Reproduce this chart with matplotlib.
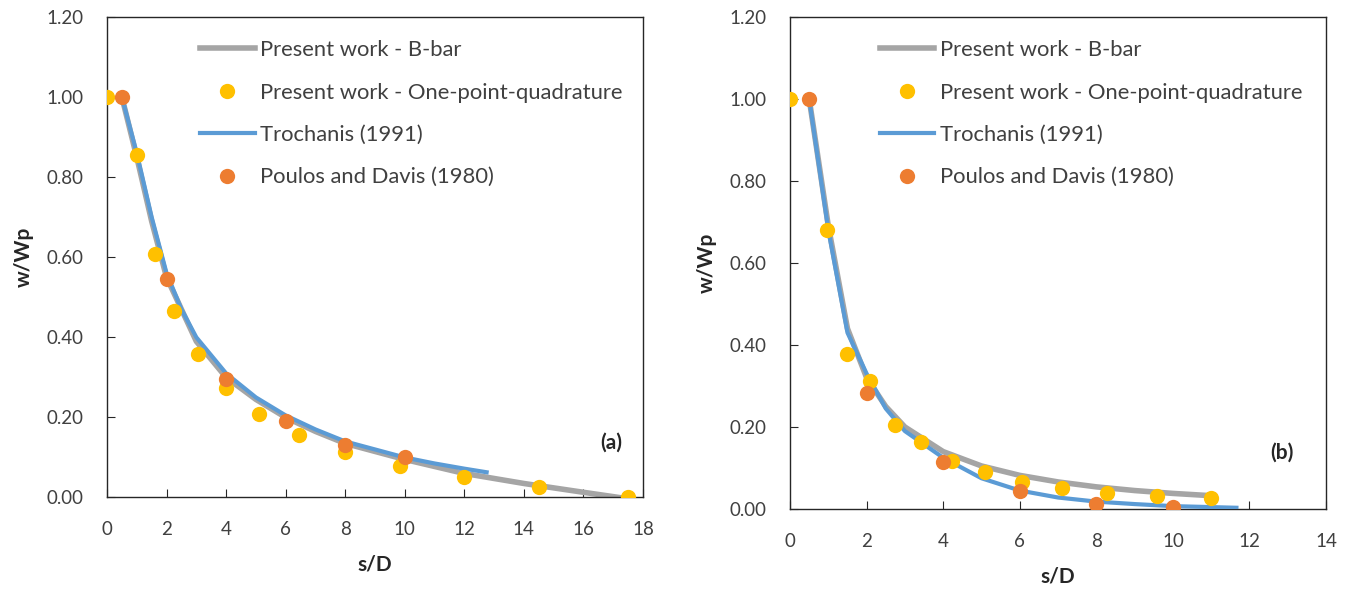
import matplotlib
matplotlib.use('Agg')
import matplotlib.pyplot as plt
import numpy as np

# --- donnees panneau (a)
a_bbar_x = [0.5, 1.0, 1.5, 2.0, 3.0, 4.0, 5.0, 6.0, 7.0, 8.0, 10.0, 12.0, 14.0, 16.0, 17.2]
a_bbar_y = [1.0, 0.85, 0.69, 0.55, 0.39, 0.30, 0.245, 0.20, 0.165, 0.135, 0.095, 0.06, 0.035, 0.013, 0.0]
a_opq_x = [0.0, 1.0, 1.6, 2.25, 3.05, 4.0, 5.1, 6.45, 8.0, 9.85, 12.0, 14.5, 17.5]
a_opq_y = [1.0, 0.855, 0.607, 0.466, 0.359, 0.274, 0.208, 0.156, 0.113, 0.078, 0.050, 0.025, 0.0]
a_tro_x = [0.5, 1.0, 1.5, 2.0, 2.5, 3.0, 4.0, 5.0, 6.0, 7.0, 8.0, 9.0, 10.0, 11.0, 12.0, 12.75]
a_tro_y = [1.0, 0.86, 0.70, 0.56, 0.47, 0.40, 0.31, 0.25, 0.205, 0.17, 0.14, 0.12, 0.10, 0.085, 0.072, 0.063]
a_pd_x = [0.5, 2.0, 4.0, 6.0, 8.0, 10.0]
a_pd_y = [1.0, 0.545, 0.296, 0.191, 0.13, 0.10]

# --- donnees panneau (b)
b_bbar_x = [0.5, 1.0, 1.5, 2.0, 2.5, 3.0, 4.0, 5.0, 6.0, 7.0, 8.0, 9.0, 10.0, 10.9]
b_bbar_y = [1.0, 0.69, 0.44, 0.32, 0.25, 0.20, 0.14, 0.105, 0.082, 0.066, 0.054, 0.045, 0.038, 0.033]
b_opq_x = [0.0, 0.97, 1.5, 2.1, 2.74, 3.42, 4.24, 5.08, 6.05, 7.1, 8.29, 9.58, 11.0]
b_opq_y = [1.0, 0.68, 0.378, 0.312, 0.206, 0.164, 0.118, 0.091, 0.067, 0.052, 0.039, 0.032, 0.028]
b_tro_x = [0.5, 1.0, 1.5, 2.0, 2.5, 3.0, 4.0, 5.0, 6.0, 7.0, 8.0, 9.0, 10.0, 11.66]
b_tro_y = [1.0, 0.68, 0.43, 0.33, 0.245, 0.19, 0.125, 0.075, 0.045, 0.028, 0.018, 0.012, 0.007, 0.003]
b_pd_x = [0.5, 2.0, 4.0, 6.0, 8.0, 10.0]
b_pd_y = [1.0, 0.282, 0.115, 0.044, 0.012, 0.005]

labels = ['Present work - B-bar', 'Present work - One-point-quadrature',
          'Trochanis (1991)', 'Poulos and Davis (1980)']

gris = '#A5A5A5'
jaune = '#FFC000'
bleu = '#5B9BD5'
orange = '#ED7D31'
texte = '#404040'

plt.rcParams['font.family'] = ['Lato', 'DejaVu Sans']
s = 13.5  # taille tick labels

fig = plt.figure(figsize=(13.51, 5.90), dpi=100)
# positions des axes (en fraction de la figure)
ax1 = fig.add_axes([0.0792, 0.1568, 0.3967, 0.8144])
ax2 = fig.add_axes([0.5848, 0.1373, 0.3967, 0.8339])


def panneau(ax, bx, by, ox, oy, tx, ty, px, py, xmax, tag, tagx, legx):
    ax.plot(bx, by, color=gris, lw=4.0, label=labels[0], zorder=2)
    ax.plot(ox, oy, 'o', color=jaune, ms=11, mec='none', label=labels[1], zorder=4)
    ax.plot(tx, ty, color=bleu, lw=3.0, label=labels[2], zorder=3)
    ax.plot(px, py, 'o', color=orange, ms=11, mec='none', label=labels[3], zorder=5)
    ax.set_xlim(0, xmax)
    ax.set_ylim(0, 1.2)
    ax.set_xticks(np.arange(0, xmax + 0.1, 2))
    yt = np.arange(0, 1.21, 0.2)
    ax.set_yticks(yt)
    ax.set_yticklabels(['%.2f' % v for v in yt])
    for sp in ax.spines.values():
        sp.set_color('#262626')
        sp.set_linewidth(1.0)
    ax.tick_params(direction='in', length=6, color='#262626', labelsize=s, labelcolor=texte, pad=17)
    ax.set_xlabel('s/D', fontsize=15, fontweight='bold', color='#262626', labelpad=12)
    ax.set_ylabel('w/Wp', fontsize=15, fontweight='bold', color='#262626', labelpad=9)
    ax.text(tagx, 0.138, tag, fontsize=15, fontweight='bold', ha='center', va='center', color='#262626')
    leg = ax.legend(loc='upper left', bbox_to_anchor=(legx, 0.932), bbox_transform=fig.transFigure,
                    frameon=False, fontsize=15.8, borderaxespad=0, borderpad=0,
                    handlelength=2.5, handletextpad=0.25, labelspacing=1.02)
    for t in leg.get_texts():
        t.set_color(texte)


panneau(ax1, a_bbar_x, a_bbar_y, a_opq_x, a_opq_y, a_tro_x, a_tro_y, a_pd_x, a_pd_y, 18, '(a)', 16.95, 0.148)
panneau(ax2, b_bbar_x, b_bbar_y, b_opq_x, b_opq_y, b_tro_x, b_tro_y, b_pd_x, b_pd_y, 14, '(b)', 12.85, 0.651)

plt.savefig('out.png', dpi=100)
